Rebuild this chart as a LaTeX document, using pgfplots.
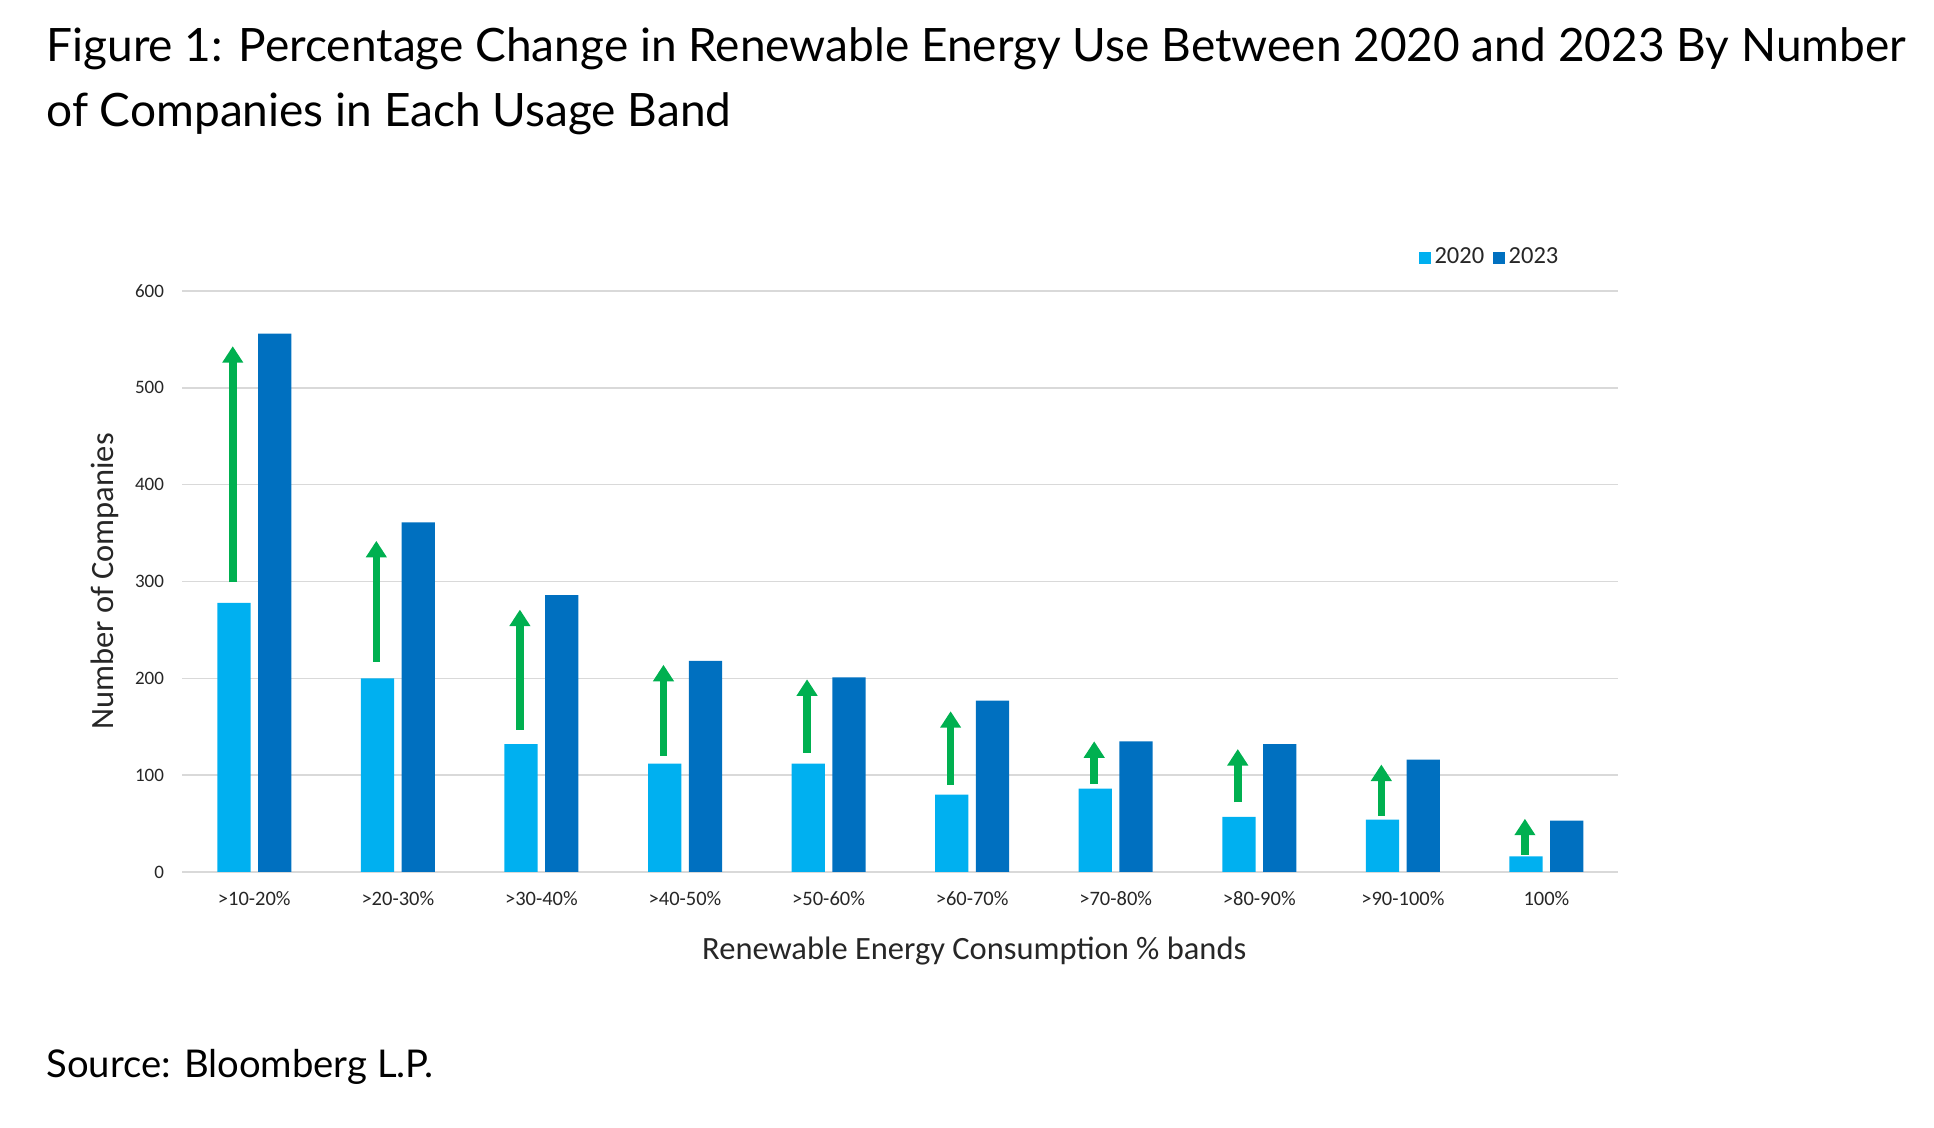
\documentclass[border=0pt]{standalone}
\usepackage{fontspec}
\setmainfont{Carlito}
\newfontfamily\titlefont{Lato}
\usepackage{pgfplots}
\usepackage{pgfplotstable}
\pgfplotsset{compat=1.18}
\usetikzlibrary{arrows.meta}

\definecolor{c2020}{HTML}{00B0F0}
\definecolor{c2023}{HTML}{0070C0}
\definecolor{arrowgreen}{HTML}{00B050}
\definecolor{gridgray}{HTML}{D9D9D9}
\definecolor{labelgray}{HTML}{262626}

% number of companies per band
\pgfplotstableread{
x v2020 v2023
0 278 556
1 200 361
2 132 286
3 112 218
4 112 201
5 80 177
6 86 135
7 57 132
8 54 116
9 16 53
}\bands

% green arrows: start and length
\pgfplotstableread{
x y0 dv
0 299 244
1 217 125
2 147 124
3 120 94
4 123 76
5 90 76
6 91 44
7 72 55
8 58 53
9 18 37
}\arrowdata

\begin{document}
\begin{tikzpicture}[x=1pt,y=1pt]
\path (0,0) rectangle (773.6,451.2);

\node[anchor=base west, inner sep=0, font=\titlefont\fontsize{18.4}{23}\selectfont]
  at (18.4,426.5) {Figure 1: Percentage Change in Renewable Energy Use Between 2020 and 2023 By Number};
\node[anchor=base west, inner sep=0, font=\titlefont\fontsize{18.4}{23}\selectfont]
  at (18.4,400.4) {of Companies in Each Usage Band};
\node[anchor=base west, inner sep=0, font=\titlefont\fontsize{15.3}{18}\selectfont]
  at (18.4,20.2) {Source: Bloomberg L.P.};

\begin{axis}[
    at={(73pt,102.4pt)}, anchor=south west,
    scale only axis,
    width=574.3pt, height=232.4pt,
    xmin=-0.5, xmax=9.5,
    ymin=0, ymax=600,
    ytick={0,100,...,600},
    xtick={0,...,9},
    xticklabels={>10-20\%,>20-30\%,>30-40\%,>40-50\%,>50-60\%,>60-70\%,>70-80\%,>80-90\%,>90-100\%,100\%},
    /pgf/number format/assume math mode=true,
    axis line style={draw=none},
    major tick length=0pt,
    ymajorgrids,
    grid style={gridgray, line width=0.6pt},
    ticklabel style={text=labelgray, inner sep=0pt},
    yticklabel style={font=\fontsize{7.6}{9}\selectfont, anchor=east, xshift=-7.2pt},
    xticklabel style={font=\fontsize{8.2}{10}\selectfont, anchor=base, yshift=-13.3pt},
    xlabel={Renewable Energy Consumption \% bands},
    ylabel={Number of Companies},
    label style={font=\fontsize{13}{15}\selectfont, text=labelgray},
    xlabel style={at={(axis description cs:0.5515,-0.150)}, anchor=base},
    ylabel style={at={(axis description cs:-0.0541,0.5)}, anchor=center},
    legend columns=2,
    legend style={at={(axis description cs:0.8607,1.057)}, anchor=west,
      draw=none, fill=none, inner sep=0pt, font=\fontsize{9.8}{12}\selectfont,
      text=labelgray,
      nodes={inner sep=1.5pt},
      /tikz/every even column/.append style={column sep=2pt}},
    legend image code/.code={\fill[#1] (0pt,-2.4pt) rectangle (4.8pt,2.4pt);},
  ]
  \addplot[ybar, bar width=13.3pt, bar shift=-8.15pt, fill=c2020, draw=none]
    table[x=x, y=v2020] {\bands};
  \addlegendentry{2020}
  \addplot[ybar, bar width=13.3pt, bar shift=8.15pt, fill=c2023, draw=none]
    table[x=x, y=v2023] {\bands};
  \addlegendentry{2023}
  \addplot[forget plot, mark=none, arrowgreen, line width=3pt,
      -{Triangle[width=8pt, length=6.6pt]},
      quiver={u=0, v=\thisrow{dv}}]
    table[x expr=\thisrow{x}-0.15, y=y0] {\arrowdata};
\end{axis}
\end{tikzpicture}
\end{document}
